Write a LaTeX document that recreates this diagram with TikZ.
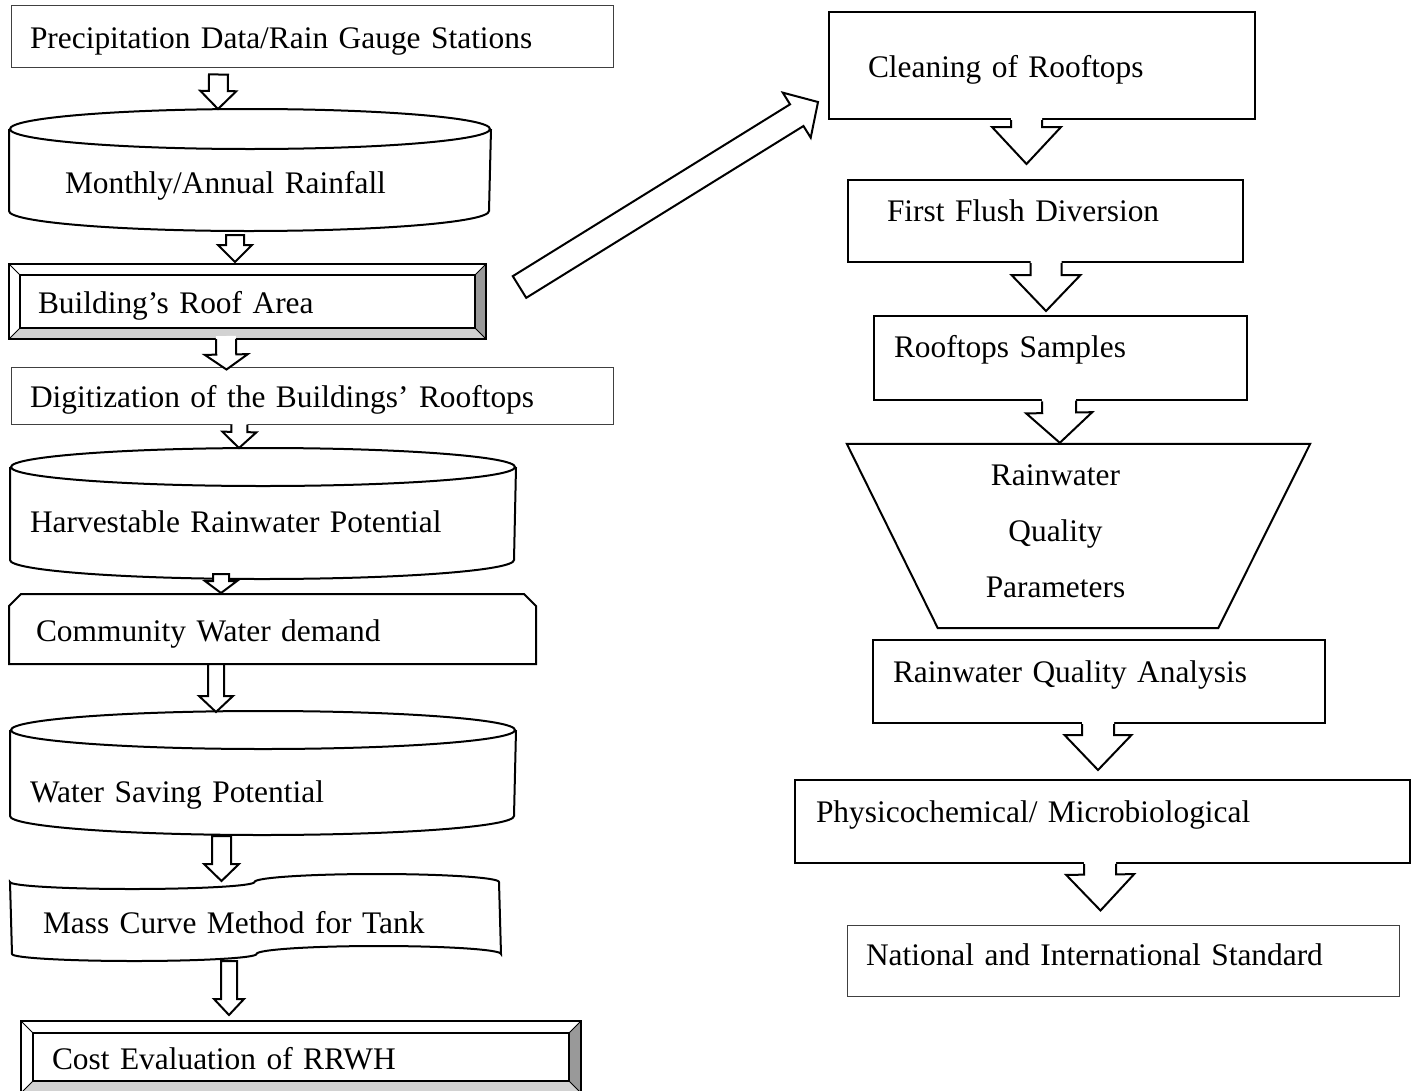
\documentclass[tikz,border=0pt]{standalone}
\usepackage{fontspec}
\setmainfont{Liberation Serif}
\usetikzlibrary {calc, positioning}
\usetikzlibrary {backgrounds, shapes.geometric}
\tikzset{
    box/.style={draw, line width=2pt, inner ysep=0pt, align=left,
        text height=28pt, text depth=4pt},
    thinbox/.style={box, line width=1pt, draw=black!75},
    plain/.style={box, draw=none},
    arrowline/.style={line width=2pt, line join=miter}
}
% hollow block arrow: start, tip, shaft half width, head half width, head length
\newcommand{\fatarrow}[5]{%
    \coordinate (fa-a) at (#1);
    \coordinate (fa-b) at (#2);
    \coordinate (fa-h) at ($(fa-b)!#5!(fa-a)$);
    \draw[arrowline, fill=white] ($(fa-a)!#3!90:(fa-b)$) -- ($(fa-h)!#3!-90:(fa-a)$)
        -- ($(fa-h)!#4!-90:(fa-a)$) -- (fa-b) -- ($(fa-h)!#4!90:(fa-a)$)
        -- ($(fa-h)!#3!90:(fa-a)$) -- ($(fa-a)!#3!-90:(fa-b)$) -- cycle;
}
% same, open at the tail (it hides the box edge there)
\newcommand{\openfatarrow}[5]{%
    \coordinate (fa-a) at (#1);
    \coordinate (fa-b) at (#2);
    \coordinate (fa-h) at ($(fa-b)!#5!(fa-a)$);
    \coordinate (fa-t) at ($(fa-a)!-3pt!(fa-b)$);
    \fill[white] ($(fa-t)!#3!90:(fa-b)$) -- ($(fa-h)!#3!-90:(fa-a)$)
        -- ($(fa-h)!#4!-90:(fa-a)$) -- (fa-b) -- ($(fa-h)!#4!90:(fa-a)$)
        -- ($(fa-h)!#3!90:(fa-a)$) -- ($(fa-t)!#3!-90:(fa-b)$) -- cycle;
    \draw[arrowline] ($(fa-a)!#3!90:(fa-b)$) -- ($(fa-h)!#3!-90:(fa-a)$)
        -- ($(fa-h)!#4!-90:(fa-a)$) -- (fa-b) -- ($(fa-h)!#4!90:(fa-a)$)
        -- ($(fa-h)!#3!90:(fa-a)$) -- ($(fa-a)!#3!-90:(fa-b)$);
}

\begin{document}
\begin{tikzpicture}[x=1pt, y=1pt, font=\fontsize{31.4}{38}\selectfont]
    \useasboundingbox (0,0) rectangle (1416,-1090);

    % left column
    \node[thinbox, minimum width=602pt, minimum height=62pt, inner xsep=19pt, text width=564pt]
        (prec) at (312,-36) {Precipitation Data/Rain Gauge Stations};
    \node[plain, minimum width=480pt, minimum height=80pt, inner xsep=55pt, text width=370pt, text height=50pt]
        (rain) at (250,-170) {Monthly/Annual Rainfall};
    \node[plain, minimum width=475pt, minimum height=73pt, inner xsep=28pt, text width=419pt]
        (roof) at (247.5,-301.5) {Building’s Roof Area};
    \node[thinbox, minimum width=602pt, minimum height=57pt, inner xsep=19pt, text width=564pt]
        (dig) at (312,-395.5) {Digitization of the Buildings’ Rooftops};
    \node[plain, minimum width=504pt, minimum height=91pt, inner xsep=19pt, text width=466pt, text height=41pt]
        (harv) at (263,-513.5) {Harvestable Rainwater Potential};
    \node[plain, minimum width=525pt, minimum height=68pt, inner xsep=26pt, text width=473pt]
        (comm) at (272.5,-629) {Community Water demand};
    \node[plain, minimum width=504pt, minimum height=84pt, inner xsep=19pt, text width=466pt, text height=62pt]
        (save) at (263,-773) {Water Saving Potential};
    \node[plain, minimum width=489pt, minimum height=70pt, inner xsep=32pt, text width=425pt, text height=34pt]
        (mass) at (255.5,-918) {Mass Curve Method for Tank};
    \node[plain, minimum width=558pt, minimum height=70pt, inner xsep=30pt, text width=498pt]
        (cost) at (301,-1057) {Cost Evaluation of RRWH};

    % right column
    \node[box, minimum width=426pt, minimum height=107pt, inner xsep=39pt, text width=348pt]
        (clean) at (1042,-65.5) {Cleaning of Rooftops};
    \node[box, minimum width=395pt, minimum height=82pt, inner xsep=39pt, text width=317pt, text depth=28pt]
        (fflush) at (1045.5,-221) {First Flush Diversion};
    \node[box, minimum width=373pt, minimum height=84pt, inner xsep=20pt, text width=333pt, text depth=30pt]
        (rsamp) at (1060.5,-358) {Rooftops Samples};
    \node[minimum width=463pt, minimum height=184pt, inner sep=0pt, text width=463pt, align=center,
        text height=21pt, text depth=122pt, font=\fontsize{31.4}{56}\selectfont]
        (trap) at (1078.5,-536) {Rainwater\kern46pt\\Quality\kern46pt\\Parameters\kern46pt};
    \node[box, minimum width=452pt, minimum height=83pt, inner xsep=20pt, text width=412pt, text depth=27pt]
        (rqa) at (1099,-681.5) {Rainwater Quality Analysis};
    \node[box, minimum width=615pt, minimum height=83pt, inner xsep=21pt, text width=573pt, text depth=27pt]
        (phys) at (1102.5,-821.5) {Physicochemical/ Microbiological};
    \node[thinbox, minimum width=552pt, minimum height=71pt, inner xsep=19pt, text width=514pt, text depth=19pt]
        (nat) at (1123,-960.5) {National and International Standard};

    % drums
    \foreach \n/\rx/\ry in {rain/240/20, harv/252/19, save/252/19}{
        \draw[line width=2pt] (\n.north) ellipse [x radius=\rx, y radius=\ry];
        \draw[line width=2pt] (\n.north west) -- (\n.south west)
            arc [start angle=180, end angle=360, x radius=\rx, y radius=\ry] -- (\n.north east);
    }
    % bevelled frames
    \foreach \n/\b in {roof/11, cost/12}{
        \fill[gray!80] (\n.north east) -- (\n.south east) -- ++(-\b,\b)
            -- ($(\n.north east)+(-\b,-\b)$) -- cycle;
        \fill[gray!35] (\n.south west) -- (\n.south east) -- ++(-\b,\b)
            -- ($(\n.south west)+(\b,\b)$) -- cycle;
        \draw[line width=1.5pt] (\n.north west) rectangle (\n.south east)
            ($(\n.north west)+(\b,-\b)$) rectangle ($(\n.south east)+(-\b,\b)$);
        \draw[line width=1pt] (\n.north west) -- ++(\b,-\b) (\n.north east) -- ++(-\b,-\b)
            (\n.south west) -- ++(\b,\b) (\n.south east) -- ++(-\b,\b);
    }
    % cut corners
    \draw[line width=2pt] ($(comm.north west)+(0,-12)$) -- ($(comm.north west)+(12,0)$)
        -- ($(comm.north east)+(-12,0)$) -- ($(comm.north east)+(0,-12)$)
        -- (comm.south east) -- (comm.south west) -- cycle;
    % punched tape
    \draw[line width=2pt] (mass.north west)
        arc [start angle=180, end angle=360, x radius=122.25, y radius=7]
        arc [start angle=180, end angle=0, x radius=122.25, y radius=8] -- (mass.south east)
        arc [start angle=0, end angle=180, x radius=122.25, y radius=8]
        arc [start angle=0, end angle=-180, x radius=122.25, y radius=7] -- cycle;
    % funnel
    \draw[line width=2pt] (trap.north west) -- (trap.north east) -- ($(trap.south east)+(-92,0)$)
        -- ($(trap.south west)+(91,0)$) -- cycle;

    % arrows, left
    \fatarrow{$(prec.south west)+(208,-7)$}{$(rain.north west)+(209,20)$}{9.5pt}{18pt}{18pt}
    \fatarrow{$(rain.south west)+(226,-24)$}{$(roof.north west)+(226,2)$}{9pt}{17pt}{17pt}
    \openfatarrow{$(roof.south west)+(217,0)$}{$(dig.north west)+(216,-3)$}{10pt}{21.5pt}{15pt}
    \openfatarrow{$(dig.south west)+(229,0)$}{$(harv.north west)+(229,19)$}{8pt}{17pt}{16pt}
    \fatarrow{$(harv.south west)+(211,-14)$}{$(comm.north west)+(212,1)$}{8pt}{16pt}{12pt}
    \fatarrow{$(comm.south west)+(207,0)$}{$(save.north west)+(206,18)$}{8pt}{17pt}{16pt}
    \fatarrow{$(save.south west)+(211.5,-20)$}{$(mass.north west)+(211.5,1)$}{9.5pt}{17.5pt}{17pt}
    \fatarrow{$(mass.south west)+(219,-7)$}{$(cost.north west)+(208,6)$}{8pt}{15pt}{16pt}
    % across
    \fatarrow{$(roof.east)+(33.5,14.5)$}{$(clean.west)+(-10,-36.5)$}{12.75pt}{26.5pt}{25pt}
    % arrows, right
    \openfatarrow{$(clean.south west)+(198.5,0)$}{$(fflush.north west)+(179.5,15)$}{15.5pt}{34.5pt}{37pt}
    \openfatarrow{$(fflush.south west)+(199,0)$}{$(rsamp.north west)+(173,4)$}{15.5pt}{34.5pt}{36pt}
    \openfatarrow{$(rsamp.south west)+(186,0)$}{$(trap.north west)+(213,1)$}{17pt}{33pt}{30pt}
    \openfatarrow{$(rqa.south west)+(226,0)$}{$(phys.north west)+(304,9)$}{16pt}{33.5pt}{35pt}
    \openfatarrow{$(phys.south west)+(306,0)$}{$(nat.north west)+(254,14)$}{16pt}{34pt}{36pt}
\end{tikzpicture}
\end{document}
